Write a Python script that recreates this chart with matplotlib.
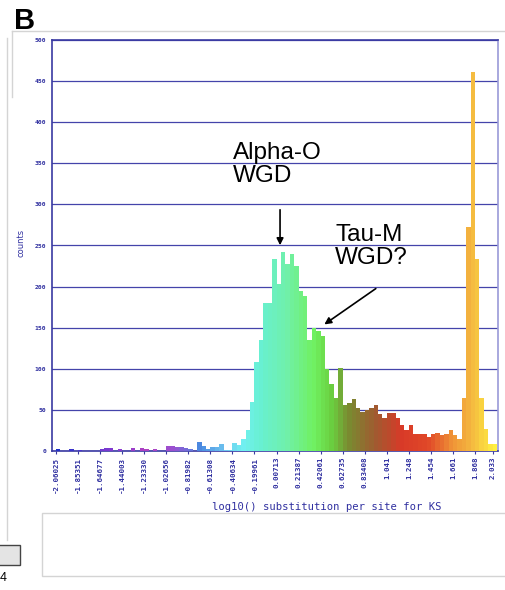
import numpy as np
import matplotlib
matplotlib.use("Agg")
import matplotlib.pyplot as plt
from matplotlib.colors import LinearSegmentedColormap
from matplotlib.patches import Rectangle
from matplotlib.lines import Line2D

# histogram of log10(Ks): 100 bins, first bin starts at -2.06025
bin_start = -2.06025
bin_width = 0.041348
counts = [2, 0, 0, 2, 0, 1, 0, 0, 0, 0,
          2, 4, 4, 0, 3, 0, 0, 4, 0, 4,
          3, 0, 3, 0, 0, 6, 6, 5, 5, 4,
          2, 0, 11, 6, 2, 5, 5, 8, 1, 1,
          10, 7, 14, 26, 60, 108, 135, 180, 180, 234,
          203, 242, 228, 240, 225, 195, 188, 135, 150, 146,
          140, 100, 82, 64, 101, 56, 58, 63, 52, 48,
          50, 52, 56, 45, 40, 46, 46, 40, 32, 25,
          32, 21, 21, 21, 17, 21, 22, 19, 21, 25,
          19, 15, 64, 273, 461, 233, 64, 27, 9, 9]
tick_bins = [0, 5, 10, 15, 20, 25, 30, 35, 40, 45, 50, 55, 60, 65, 70, 75, 80, 85, 90, 95, 99]
tick_labels = ["-2.06025", "-1.85351", "-1.64677", "-1.44003", "-1.23330", "-1.02656",
               "-0.81982", "-0.61308", "-0.40634", "-0.19961", "0.00713", "0.21387",
               "0.42061", "0.62735", "0.83408", "1.041", "1.248", "1.454", "1.661",
               "1.868", "2.033"]
y_ticks = [0, 50, 100, 150, 200, 250, 300, 350, 400, 450, 500]

# colour ramp along the bins (blue -> purple -> cyan -> green -> red -> yellow)
ramp_pos = [0, 8, 14, 20, 26, 32, 38, 42, 46, 52, 58, 62, 66, 72, 78, 84, 90, 94, 99]
ramp_col = ["#2030c8", "#6a3ad0", "#8a3ad0", "#b040c0", "#9a50d0", "#4a8ae0", "#70c8f0",
            "#70f0f0", "#68f0d0", "#70f0a8", "#70f060", "#6ad040", "#7a8a30", "#a05a30",
            "#d83a28", "#e04828", "#f09838", "#f4b840", "#fff040"]
cmap = LinearSegmentedColormap.from_list(
    "ks", list(zip(np.array(ramp_pos) / 99, ramp_col)))

axis_blue = "#3a3aa2"
text_blue = "#3030a0"

fig = plt.figure(figsize=(5.06, 5.90), dpi=100)
W, H = 506, 590

def fx(px):
    return px / W

def fy(py):
    return 1 - py / H

ax = fig.add_axes([fx(52), fy(451), fx(498) - fx(52), fy(40) - fy(451)])

n = len(counts)
left = bin_start + bin_width * np.arange(n)
colors = [cmap(i / (n - 1)) for i in range(n)]
ax.bar(left, counts, width=bin_width, align="edge", color=colors, linewidth=0, zorder=3)

ax.set_xlim(bin_start - 0.9 * bin_width, bin_start + 100.2 * bin_width)
ax.set_ylim(0, 500)
ax.set_yticks(y_ticks)
ax.set_yticklabels([str(v) for v in y_ticks], family="DejaVu Sans Mono",
                   fontsize=4.6, fontweight="bold", color=text_blue)
ax.set_xticks(bin_start + bin_width * np.array(tick_bins))
ax.set_xticklabels(tick_labels, rotation=90, family="DejaVu Sans Mono",
                   fontsize=5.4, fontweight="bold", color=text_blue)
ax.tick_params(axis="y", length=0, pad=4)
ax.tick_params(axis="x", length=2, pad=2, color=axis_blue)
ax.grid(axis="y", color="#4444aa", linewidth=0.9, zorder=1)
for s in ["left", "bottom", "top"]:
    ax.spines[s].set_color(axis_blue)
    ax.spines[s].set_linewidth(1.2)
ax.spines["right"].set_color("#9a9ad8")
ax.spines["right"].set_linewidth(1.2)

fig.text(fx(21), fy(243), "counts", rotation=90, ha="center", va="center",
         fontsize=6, color=text_blue)
fig.text(fx(327), fy(507), "log10() substitution per site for KS", ha="center",
         va="center", family="DejaVu Sans Mono", fontsize=7.6, color=text_blue)

# annotations
def bx(px):
    return bin_start + bin_width * (px - 56) / 4.41

def cy(py):
    return (451 - py) / 0.822

ann_font = dict(family="Liberation Sans", fontsize=17.5, color="black", linespacing=1.05)
ax.text(bx(233), cy(142), "Alpha-O\nWGD", ha="left", va="top", zorder=5, **ann_font)
ax.text(bx(335), cy(224), "Tau-M\nWGD?", ha="left", va="top", zorder=5, **ann_font)
ax.annotate("", xy=(bx(280), cy(248)), xytext=(bx(280), cy(207)),
            arrowprops=dict(arrowstyle="-|>", color="black", lw=1.2, mutation_scale=10),
            zorder=5)
ax.annotate("", xy=(bx(322), cy(326)), xytext=(bx(378), cy(287)),
            arrowprops=dict(arrowstyle="-|>", color="black", lw=1.2, mutation_scale=10),
            zorder=5)

# panel letter and surrounding frame pieces
fig.text(fx(14), fy(29), "B", fontsize=21, fontweight="bold", family="Liberation Sans",
         va="baseline", ha="left")
grey = "#d4d4d4"
fig.add_artist(Line2D([fx(12), fx(506)], [fy(31), fy(31)], color=grey, lw=1))
fig.add_artist(Line2D([fx(12), fx(12)], [fy(31), fy(97)], color=grey, lw=1))
fig.add_artist(Line2D([fx(7), fx(7)], [fy(38), fy(540)], color=grey, lw=1))
fig.add_artist(Rectangle((fx(42), fy(576)), fx(506) - fx(42), fy(513) - fy(576),
                         transform=fig.transFigure, fill=False, edgecolor=grey, lw=1))
fig.add_artist(Rectangle((fx(-2), fy(565)), fx(22), fy(545) - fy(565),
                         transform=fig.transFigure, facecolor="#e4e4e4",
                         edgecolor="#444444", lw=1))
fig.text(fx(0), fy(578), "4", fontsize=9, family="Liberation Sans", va="center", ha="left")

fig.savefig("out.png", dpi=100)
